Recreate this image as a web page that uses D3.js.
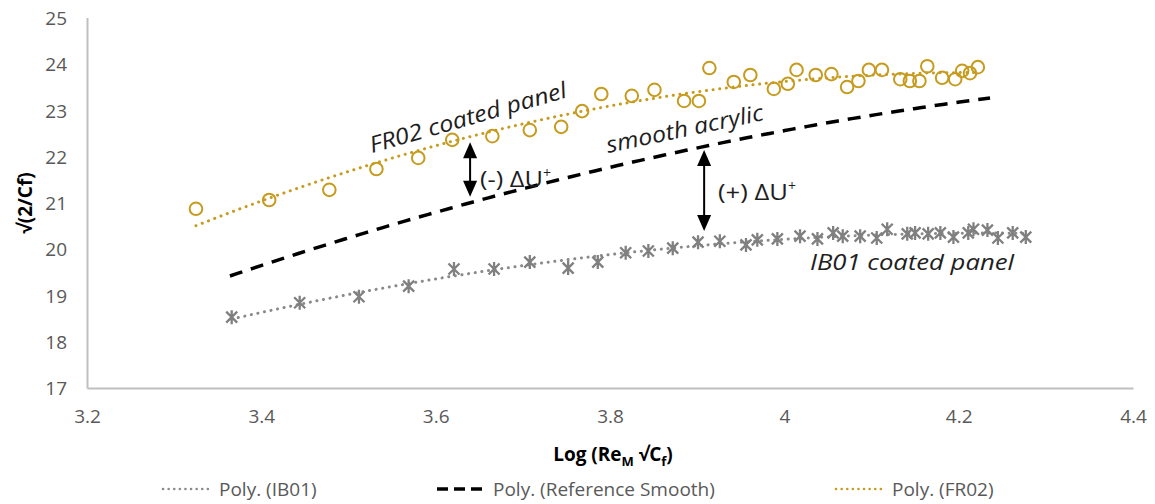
<!DOCTYPE html>
<html>
<head>
<meta charset="utf-8">
<script src="https://cdn.jsdelivr.net/npm/d3@7"></script>
<style>
  html, body { margin: 0; padding: 0; background: #fff; }
  svg { display: block; font-family: "Open Sans", "Noto Sans", sans-serif; }
</style>
</head>
<body>
<svg id="chart" width="1155" height="504"></svg>
<script>
// ---- data ---------------------------------------------------------------
const xTicks = [3.2, 3.4, 3.6, 3.8, 4, 4.2, 4.4];
const yTicks = [17, 18, 19, 20, 21, 22, 23, 24, 25];

// FR02 coated panel measurements
const fr02X = [3.325, 3.409, 3.478, 3.532, 3.580, 3.619, 3.665, 3.708, 3.744, 3.768,
               3.790, 3.825, 3.851, 3.885, 3.902, 3.914, 3.942, 3.961, 3.988, 4.004,
               4.014, 4.036, 4.054, 4.072, 4.085, 4.097, 4.112, 4.133, 4.144, 4.155,
               4.164, 4.181, 4.196, 4.204, 4.213, 4.222];
const fr02Y = [20.87, 21.06, 21.28, 21.73, 21.97, 22.36, 22.44, 22.57, 22.64, 22.98,
               23.35, 23.31, 23.44, 23.20, 23.20, 23.91, 23.61, 23.76, 23.46, 23.57,
               23.87, 23.76, 23.78, 23.50, 23.63, 23.87, 23.87, 23.67, 23.63, 23.63,
               23.95, 23.70, 23.67, 23.85, 23.80, 23.93];

// IB01 coated panel measurements
const ib01X = [3.366, 3.444, 3.512, 3.569, 3.621, 3.667, 3.708, 3.752, 3.786, 3.818,
               3.844, 3.872, 3.901, 3.926, 3.956, 3.969, 3.992, 4.018, 4.038, 4.056,
               4.067, 4.087, 4.106, 4.118, 4.141, 4.150, 4.165, 4.179, 4.194, 4.211,
               4.217, 4.233, 4.245, 4.262, 4.277];
const ib01Y = [18.53, 18.84, 18.97, 19.20, 19.57, 19.57, 19.72, 19.59, 19.72, 19.92,
               19.96, 20.02, 20.15, 20.17, 20.09, 20.20, 20.22, 20.28, 20.22, 20.35,
               20.28, 20.28, 20.24, 20.43, 20.33, 20.35, 20.33, 20.35, 20.26, 20.35,
               20.43, 20.41, 20.24, 20.35, 20.26];

// smooth acrylic reference profile
const refX = [3.364, 3.559, 3.639, 3.907, 4.027, 4.236];
const refY = [19.42, 20.56, 21.02, 22.18, 22.68, 23.26];

const legendLabels = ["Poly. (IB01)", "Poly. (Reference Smooth)", "Poly. (FR02)"];

// ---- helpers ------------------------------------------------------------
// second-order least-squares polynomial, returns f(x)
function polyFit2(xs, ys) {
  const n = xs.length;
  const x0 = d3.mean(xs);
  let s = [0, 0, 0, 0, 0], t = [0, 0, 0];
  for (let i = 0; i < n; i++) {
    const u = xs[i] - x0;
    let p = 1;
    for (let k = 0; k <= 4; k++) { s[k] += p; if (k <= 2) t[k] += p * ys[i]; p *= u; }
  }
  const A = [[s[0], s[1], s[2]], [s[1], s[2], s[3]], [s[2], s[3], s[4]]];
  const b = t.slice();
  for (let c = 0; c < 3; c++) {
    for (let r = c + 1; r < 3; r++) {
      const f = A[r][c] / A[c][c];
      for (let k = c; k < 3; k++) A[r][k] -= f * A[c][k];
      b[r] -= f * b[c];
    }
  }
  const co = [0, 0, 0];
  for (let r = 2; r >= 0; r--) {
    let v = b[r];
    for (let k = r + 1; k < 3; k++) v -= A[r][k] * co[k];
    co[r] = v / A[r][r];
  }
  return x => { const u = x - x0; return co[0] + co[1] * u + co[2] * u * u; };
}

function sampleFit(f, x0, x1) {
  return d3.range(0, 101).map(i => { const x = x0 + (x1 - x0) * i / 100; return [x, f(x)]; });
}

// ---- layout -------------------------------------------------------------
const svg = d3.select("#chart");
const x = d3.scaleLinear().domain([3.2, 4.4]).range([87, 1133]);
const y = d3.scaleLinear().domain([17, 25]).range([388, 17.6]);

const gold = "#C69B1E";
const grey = "#8A8A8A";
const axisCol = "#BFBFBF";
const tickCol = "#595959";
const ink = "#1E1E1E";

// axes (lines only, no tick marks)
const xAxis = d3.axisBottom(x).tickValues(xTicks).tickSize(0).tickPadding(22)
  .tickFormat(d => d3.format("")(d));
const yAxis = d3.axisLeft(y).tickValues(yTicks).tickSize(0).tickPadding(20);

const gx = svg.append("g").attr("transform", `translate(0,${y(17)})`).call(xAxis);
const gy = svg.append("g").attr("transform", `translate(${x(3.2)},0)`).call(yAxis);
[gx, gy].forEach(g => {
  g.select(".domain").attr("stroke", axisCol).attr("stroke-width", 2);
  g.selectAll("text").attr("fill", tickCol).attr("font-size", 19)
    .attr("font-family", "'Open Sans', sans-serif");
});
gy.selectAll("text").attr("dy", "0.36em");

// ---- trend lines --------------------------------------------------------
const line = d3.line().x(d => x(d[0])).y(d => y(d[1]));

const fitIB = polyFit2(ib01X, ib01Y);
const fitFR = polyFit2(fr02X, fr02Y);
const fitRef = polyFit2(refX, refY);

svg.append("path")
  .attr("d", line(sampleFit(fitRef, d3.min(refX), d3.max(refX))))
  .attr("fill", "none").attr("stroke", "#000").attr("stroke-width", 3.5)
  .attr("stroke-dasharray", "13 9");

svg.append("path")
  .attr("d", line(sampleFit(fitIB, d3.min(ib01X), d3.max(ib01X))))
  .attr("fill", "none").attr("stroke", grey).attr("stroke-width", 3)
  .attr("stroke-linecap", "round").attr("stroke-dasharray", "0.1 6.6");

svg.append("path")
  .attr("d", line(sampleFit(fitFR, d3.min(fr02X), d3.max(fr02X))))
  .attr("fill", "none").attr("stroke", gold).attr("stroke-width", 3)
  .attr("stroke-linecap", "round").attr("stroke-dasharray", "0.1 6.6");

// ---- markers ------------------------------------------------------------
const fr02 = fr02X.map((v, i) => [v, fr02Y[i]]);
const ib01 = ib01X.map((v, i) => [v, ib01Y[i]]);

svg.append("g").selectAll("circle").data(fr02).join("circle")
  .attr("cx", d => x(d[0])).attr("cy", d => y(d[1])).attr("r", 6.3)
  .attr("fill", "none").attr("stroke", gold).attr("stroke-width", 2);

const star = "M-5.5,-5.5L5.5,5.5M-5.5,5.5L5.5,-5.5M0,-7L0,7";
svg.append("g").selectAll("path").data(ib01).join("path")
  .attr("transform", d => `translate(${x(d[0])},${y(d[1])})`)
  .attr("d", star).attr("fill", "none").attr("stroke", "#808080").attr("stroke-width", 2.3);

// ---- annotations --------------------------------------------------------
const arrows = [
  { x: 3.6395, y0: 22.31, y1: 21.13 },
  { x: 3.908, y0: 22.14, y1: 20.39 }
];
const ga = svg.append("g");
arrows.forEach(a => {
  const px = x(a.x), top = y(a.y0), bot = y(a.y1);
  ga.append("line").attr("x1", px).attr("x2", px).attr("y1", top + 12).attr("y2", bot - 12)
    .attr("stroke", "#000").attr("stroke-width", 2);
  ga.append("path").attr("d", `M${px},${top}L${px - 7},${top + 16}L${px + 7},${top + 16}Z`).attr("fill", "#000");
  ga.append("path").attr("d", `M${px},${bot}L${px - 7},${bot - 16}L${px + 7},${bot - 16}Z`).attr("fill", "#000");
});

function deltaLabel(sign, px, py, len) {
  const t = svg.append("text").attr("x", px).attr("y", py)
    .attr("font-size", 22).attr("fill", ink);
  t.append("tspan").text(`(${sign}) ΔU`).attr("textLength", len).attr("lengthAdjust", "spacingAndGlyphs");
  t.append("tspan").text("+").attr("font-size", 14).attr("dy", -9);
}
deltaLabel("-", 480, 187, 63);
deltaLabel("+", 718, 200, 70);

svg.append("text").attr("transform", "translate(372,153) rotate(-15.9)")
  .attr("font-size", 22.5).attr("font-style", "italic").attr("fill", ink)
  .attr("textLength", 204).attr("lengthAdjust", "spacingAndGlyphs")
  .text("FR02 coated panel");

svg.append("text").attr("transform", "translate(608,153) rotate(-11.9)")
  .attr("font-size", 22.5).attr("font-style", "italic").attr("fill", ink)
  .attr("textLength", 160).attr("lengthAdjust", "spacingAndGlyphs")
  .text("smooth acrylic");

svg.append("text").attr("x", 810).attr("y", 270)
  .attr("font-size", 22.5).attr("font-style", "italic").attr("fill", ink)
  .attr("textLength", 204).attr("lengthAdjust", "spacingAndGlyphs")
  .text("IB01 coated panel");

// ---- axis titles --------------------------------------------------------
svg.append("text").attr("transform", "translate(32,203) rotate(-90)")
  .attr("text-anchor", "middle").attr("font-size", 19).attr("font-weight", "bold")
  .attr("fill", "#000").text("√(2/Cf)");

const xt = svg.append("text").attr("x", 613).attr("y", 461)
  .attr("text-anchor", "middle").attr("font-size", 19).attr("font-weight", "bold").attr("fill", "#000");
xt.append("tspan").text("Log (Re");
xt.append("tspan").text("M").attr("font-size", 13).attr("dy", 5);
xt.append("tspan").text(" √C").attr("dy", -5);
xt.append("tspan").text("f").attr("font-size", 13).attr("dy", 5);
xt.append("tspan").text(")").attr("dy", -5);

// ---- legend -------------------------------------------------------------
const legendItems = [
  { label: legendLabels[0], x0: 163, stroke: grey, dash: "0.1 5.5", w: 2.5, cap: "round" },
  { label: legendLabels[1], x0: 437, stroke: "#000", dash: "11 6", w: 3.5, cap: "butt" },
  { label: legendLabels[2], x0: 836, stroke: gold, dash: "0.1 5.5", w: 2.5, cap: "round" }
];
const gl = svg.append("g");
legendItems.forEach(it => {
  gl.append("line").attr("x1", it.x0).attr("x2", it.x0 + 50).attr("y1", 489).attr("y2", 489)
    .attr("stroke", it.stroke).attr("stroke-width", it.w)
    .attr("stroke-dasharray", it.dash).attr("stroke-linecap", it.cap);
  gl.append("text").attr("x", it.x0 + 56).attr("y", 496)
    .attr("font-size", 19).attr("fill", tickCol).text(it.label);
});
</script>
</body>
</html>
